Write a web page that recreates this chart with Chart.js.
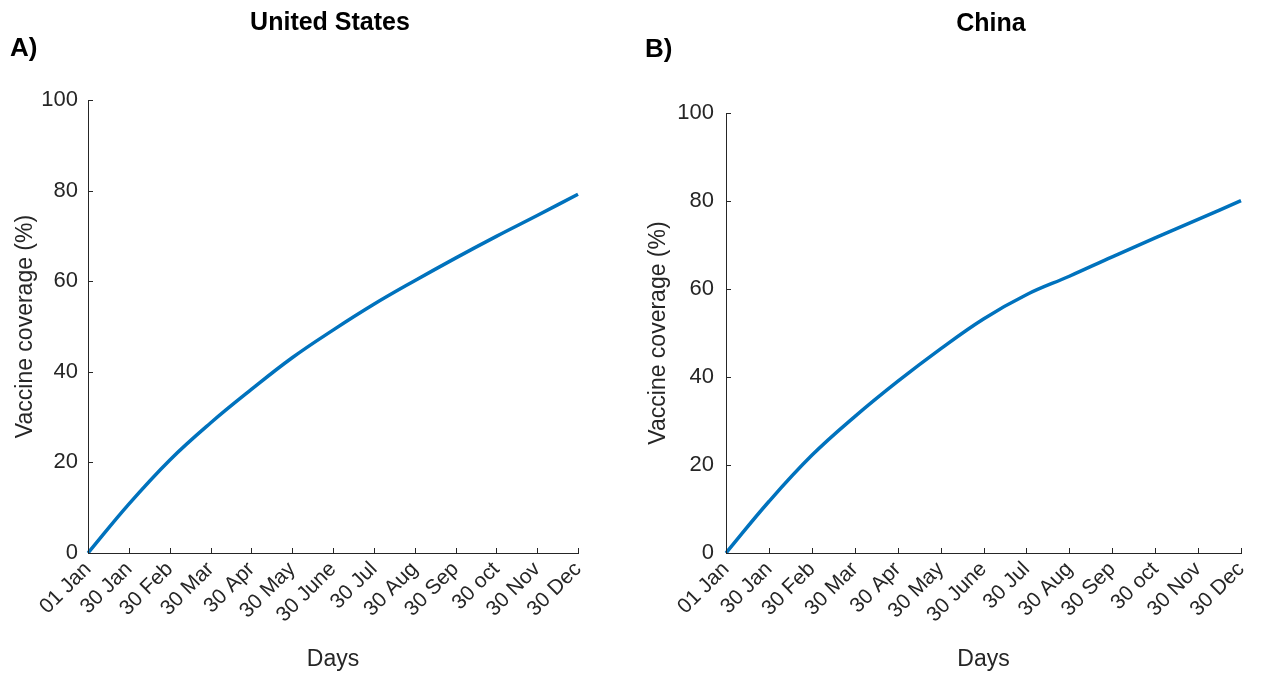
<!DOCTYPE html>
<html>
<head>
<meta charset="utf-8">
<title>Vaccine coverage</title>
<script src="https://cdn.jsdelivr.net/npm/chart.js@4/dist/chart.umd.min.js"></script>
<style>
  html, body { margin: 0; padding: 0; background: #ffffff; }
  #wrap {
    position: relative; width: 1267px; height: 677px; overflow: hidden;
    font-family: "Liberation Sans", Arial, Helvetica, sans-serif;
  }
  #wrap canvas { position: absolute; top: 0; }
  .heading {
    position: absolute; font-weight: bold; font-size: 25px; color: #000;
    white-space: nowrap; transform: translate(-50%, -50%); line-height: 1;
  }
  .panel {
    position: absolute; font-weight: bold; font-size: 26px; color: #000;
    white-space: nowrap; transform: translate(0, -50%); line-height: 1;
  }
</style>
</head>
<body>
<div id="wrap">
  <canvas id="chartUS" width="640" height="677" style="left:0px"></canvas>
  <canvas id="chartCN" width="627" height="677" style="left:640px"></canvas>
  <div class="panel" style="left:10px; top:47px">A)</div>
  <div class="heading" style="left:330px; top:21px">United States</div>
  <div class="panel" style="left:645px; top:48px">B)</div>
  <div class="heading" style="left:991px; top:22px">China</div>
</div>
<script>
// Tick labels along the day axis
const dayLabels = ['01 Jan', '30 Jan', '30 Feb', '30 Mar', '30 Apr', '30 May', '30 June',
                   '30 Jul', '30 Aug', '30 Sep', '30 oct', '30 Nov', '30 Dec'];

// Cumulative vaccine coverage (%) at each labelled day
const usCoverage    = [0, 10.8, 20.5, 28.7, 36.1, 43.1, 49.2, 54.9, 60.1, 65.1, 69.9, 74.5, 79.2];
const chinaCoverage = [0, 11.7, 22.2, 31.0, 39.0, 46.4, 53.2, 58.7, 62.9, 67.3, 71.6, 75.8, 80.1];

// Coverage axis ticks
const coverageTicks = [0, 20, 40, 60, 80, 100];

const AXIS_COLOR = '#262626';
const LINE_COLOR = '#0072BD';
const FONT_FAMILY = '"Liberation Sans", Arial, Helvetica, sans-serif';

// Short tick marks pointing into the plot area
const inwardTicks = {
  id: 'inwardTicks',
  afterDraw(chart, args, opts) {
    const { ctx, chartArea: a, scales: { x, y } } = chart;
    const len = opts.length || 5;
    ctx.save();
    ctx.strokeStyle = AXIS_COLOR;
    ctx.lineWidth = 1;
    ctx.beginPath();
    x.ticks.forEach((t, i) => {
      const px = Math.round(x.getPixelForTick(i)) + 0.5;
      ctx.moveTo(px, a.bottom);
      ctx.lineTo(px, a.bottom - len);
    });
    y.ticks.forEach((t, i) => {
      const py = Math.round(y.getPixelForTick(i)) + 0.5;
      ctx.moveTo(a.left, py);
      ctx.lineTo(a.left + len, py);
    });
    ctx.stroke();
    ctx.restore();
  }
};

function coverageChart(canvasId, values, g) {
  return new Chart(document.getElementById(canvasId), {
    type: 'line',
    data: {
      labels: dayLabels,
      datasets: [{
        data: values,
        borderColor: LINE_COLOR,
        borderWidth: 3.5,
        pointRadius: 0,
        fill: false,
        tension: 0.4
      }]
    },
    options: {
      responsive: false,
      animation: false,
      devicePixelRatio: 1,
      layout: { padding: { top: g.top, right: g.right, bottom: 0, left: 0 } },
      plugins: {
        legend: { display: false },
        tooltip: { enabled: false },
        inwardTicks: { length: 5 }
      },
      scales: {
        x: {
          type: 'category',
          offset: false,
          grid: { display: false, drawTicks: false },
          border: { display: true, color: AXIS_COLOR, width: 1 },
          ticks: {
            autoSkip: false,
            maxRotation: 45,
            minRotation: 45,
            padding: 4,
            color: AXIS_COLOR,
            font: { family: FONT_FAMILY, size: 21 }
          },
          title: {
            display: true,
            text: 'Days',
            color: AXIS_COLOR,
            font: { family: FONT_FAMILY, size: 23 },
            padding: { top: 0, bottom: 4 }
          },
          afterFit(scale) { scale.height = 124; }
        },
        y: {
          min: 0,
          max: 100,
          afterBuildTicks(scale) { scale.ticks = coverageTicks.map(v => ({ value: v })); },
          grid: { display: false, drawTicks: false },
          border: { display: true, color: AXIS_COLOR, width: 1 },
          ticks: {
            padding: g.yPad,
            color: AXIS_COLOR,
            font: { family: FONT_FAMILY, size: 22 }
          },
          title: {
            display: true,
            text: 'Vaccine coverage (%)',
            color: AXIS_COLOR,
            font: { family: FONT_FAMILY, size: 23 },
            padding: { top: g.titlePad, bottom: 0 }
          },
          afterFit(scale) { scale.width = g.yWidth; }
        }
      }
    },
    plugins: [inwardTicks]
  });
}

coverageChart('chartUS', usCoverage, { top: 100, right: 62, yWidth: 88, yPad: 10, titlePad: 12 });
coverageChart('chartCN', chinaCoverage, { top: 113, right: 26, yWidth: 86, yPad: 12, titlePad: 5 });
</script>
</body>
</html>
